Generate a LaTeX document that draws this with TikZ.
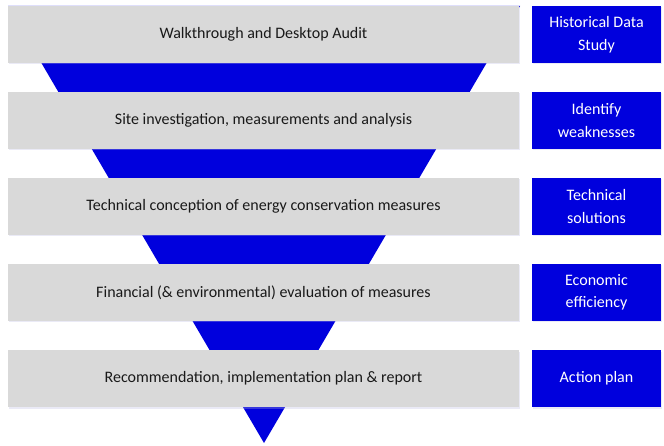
\documentclass[tikz,border=0pt]{standalone}
\usepackage{fontspec}
\setmainfont{Carlito}
\usetikzlibrary{shadows}
\definecolor{stepgrey}{RGB}{217,217,217}
\definecolor{funnelblue}{RGB}{0,0,221}
\tikzset{
  soft shadow/.style={drop shadow={shadow xshift=1pt, shadow yshift=-1.5pt, fill=gray!60!blue!40, opacity=0.3}},
  phase/.style={fill=stepgrey, soft shadow, minimum width=511pt, minimum height=57pt, inner sep=0pt,
    text=black!90, font=\fontsize{16}{22}\selectfont},
  aim/.style={fill=funnelblue, soft shadow, text=white, minimum width=129pt, minimum height=57pt,
    inner sep=0pt, align=center, font=\fontsize{16}{22.5}\selectfont}
}
\begin{document}
\begin{tikzpicture}[x=1pt,y=-1pt]
  \useasboundingbox (0,0) rectangle (664,446);
  % funnel behind the steps
  \fill[funnelblue] (8,6) -- (520,6) -- (264,443) -- cycle;
  % steps
  \node[phase] (walk) at (263.5,34.5) {Walkthrough and Desktop Audit};
  \node[phase] (site) at (263.5,120.5) {Site investigation, measurements and analysis};
  \node[phase] (tech) at (263.5,206.5) {Technical conception of energy conservation measures};
  \node[phase] (fin) at (263.5,292.5) {Financial (\& environmental) evaluation of measures};
  \node[phase] (rec) at (263.5,378.5) {Recommendation, implementation plan \& report};
  % aims
  \node[aim] (hist) at (596.5,34.5) {Historical Data\\Study};
  \node[aim] (weak) at (596.5,120.5) {Identify\\weaknesses};
  \node[aim] (sol) at (596.5,206.5) {Technical\\solutions};
  \node[aim] (eco) at (596.5,292.5) {Economic\\efficiency};
  \node[aim] (plan) at (596.5,378.5) {Action plan};
\end{tikzpicture}
\end{document}
